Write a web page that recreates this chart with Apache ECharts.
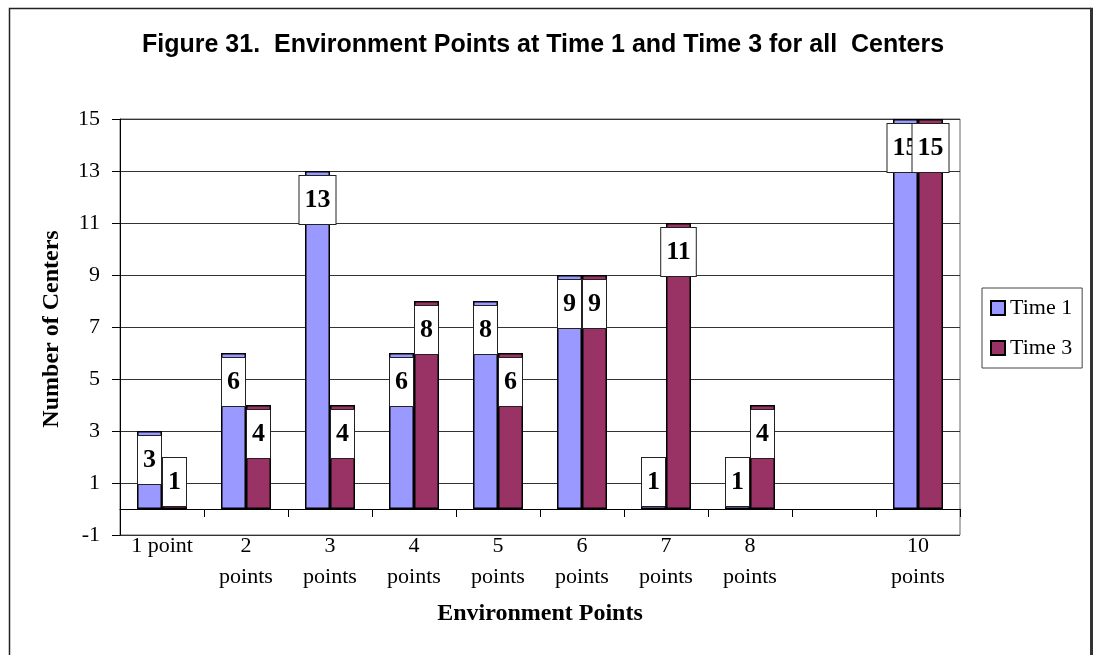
<!DOCTYPE html>
<html>
<head>
<meta charset="utf-8">
<script src="https://cdn.jsdelivr.net/npm/echarts@6/dist/echarts.min.js"></script>
<style>
  html, body { margin: 0; padding: 0; background: #fff; }
  #chart { width: 1093px; height: 655px; }
</style>
</head>
<body>
<div id="chart"></div>
<script>
// Environment point categories (9 points had no centers, so it stays blank)
const categories = ['1 point', '2\npoints', '3\npoints', '4\npoints', '5\npoints',
                    '6\npoints', '7\npoints', '8\npoints', '', '10\npoints'];
// Number of centers at each score
const time1 = [3, 6, 13, 6, 8, 9, 1, 1, null, 15];
const time3 = [1, 4, 4, 8, 6, 9, 11, 4, null, 15];
// Value-axis tick labels
const yTicks = [-1, 1, 3, 5, 7, 9, 11, 13, 15];

const serif = '"Liberation Serif", "Times New Roman", serif';

// Value labels sit just inside the bar top; short bars get the box lifted off the base
function withLabels(values) {
  return values.map(v => {
    if (v == null) return null;
    const tall = v >= 2;
    return {
      value: v,
      label: { position: tall ? 'insideTop' : 'insideBottom', distance: tall ? 5 : 3 }
    };
  });
}

const valueLabel = {
  show: true,
  color: '#000',
  fontFamily: serif,
  fontWeight: 'bold',
  fontSize: 26,
  lineHeight: 28,
  padding: [10, 5, 10, 5],
  backgroundColor: '#fff',
  borderColor: '#222',
  borderWidth: 1
};

const chart = echarts.init(document.getElementById('chart'), null, { renderer: 'canvas' });

chart.setOption({
  animation: false,
  backgroundColor: '#fff',
  title: {
    text: 'Figure 31.  Environment Points at Time 1 and Time 3 for all  Centers',
    left: 137,
    top: 28,
    textStyle: {
      fontFamily: '"Liberation Sans", Arial, sans-serif',
      fontWeight: 'bold',
      fontSize: 25,
      color: '#000'
    }
  },
  legend: {
    orient: 'vertical',
    left: 982,
    top: 288,
    padding: [9, 10, 9, 8],
    itemGap: 18,
    itemWidth: 14,
    itemHeight: 14,
    borderColor: '#444',
    borderWidth: 1,
    icon: 'rect',
    textStyle: { fontFamily: serif, fontSize: 22, color: '#000' },
    data: ['Time 1', 'Time 3']
  },
  grid: {
    left: 120,
    top: 119,
    right: 133,
    bottom: 120,
    show: true,
    borderColor: '#666',
    borderWidth: 1,
    containLabel: false
  },
  xAxis: [
    {
      // axis line and ticks at zero
      type: 'category',
      data: categories,
      boundaryGap: true,
      axisLine: { show: true, onZero: true, lineStyle: { color: '#000', width: 1 } },
      axisTick: { show: true, length: 8, lineStyle: { color: '#000' } },
      axisLabel: { show: false },
      splitLine: { show: false }
    },
    {
      // category labels below the plot
      type: 'category',
      data: categories,
      position: 'bottom',
      boundaryGap: true,
      axisLine: { show: false, onZero: false },
      axisTick: { show: false },
      axisLabel: {
        show: true,
        interval: 0,
        margin: -4,
        fontFamily: serif,
        fontSize: 22,
        lineHeight: 31,
        color: '#000'
      },
      splitLine: { show: false }
    }
  ],
  yAxis: {
    type: 'value',
    min: -1,
    max: 15,
    axisLine: { show: true, lineStyle: { color: '#000', width: 1 } },
    axisTick: { show: true, length: 8, customValues: yTicks, lineStyle: { color: '#000' } },
    axisLabel: {
      show: true,
      customValues: yTicks,
      margin: 20,
      fontFamily: serif,
      fontSize: 22,
      color: '#000'
    },
    splitLine: { show: true, lineStyle: { color: '#333', width: 1 } }
  },
  series: [
    {
      name: 'Time 1',
      type: 'bar',
      xAxisIndex: 0,
      barWidth: 25,
      barGap: '0%',
      itemStyle: { color: '#9999FF', borderColor: '#000', borderWidth: 1.5 },
      label: valueLabel,
      data: withLabels(time1)
    },
    {
      name: 'Time 3',
      type: 'bar',
      xAxisIndex: 0,
      barWidth: 25,
      barGap: '0%',
      itemStyle: { color: '#993366', borderColor: '#000', borderWidth: 1.5 },
      label: valueLabel,
      data: withLabels(time3)
    }
  ],
  graphic: [
    {
      // frame around the whole figure (open at the bottom edge)
      type: 'polyline',
      shape: { points: [[9.5, 660], [9.5, 8.5], [1091, 8.5]] },
      style: { fill: 'none', stroke: '#222', lineWidth: 1.5 },
      silent: true,
      z: -1
    },
    {
      type: 'rect',
      shape: { x: 1090, y: 7.75, width: 3, height: 660 },
      style: { fill: '#333' },
      silent: true,
      z: -1
    },
    {
      type: 'text',
      x: 52,
      y: 329,
      rotation: Math.PI / 2,
      style: {
        text: 'Number of Centers',
        font: 'bold 24px ' + serif,
        fill: '#000',
        textAlign: 'center',
        textVerticalAlign: 'middle'
      }
    },
    {
      type: 'text',
      x: 540,
      y: 614,
      style: {
        text: 'Environment Points',
        font: 'bold 24px ' + serif,
        fill: '#000',
        textAlign: 'center',
        textVerticalAlign: 'middle'
      }
    }
  ]
});
</script>
</body>
</html>
